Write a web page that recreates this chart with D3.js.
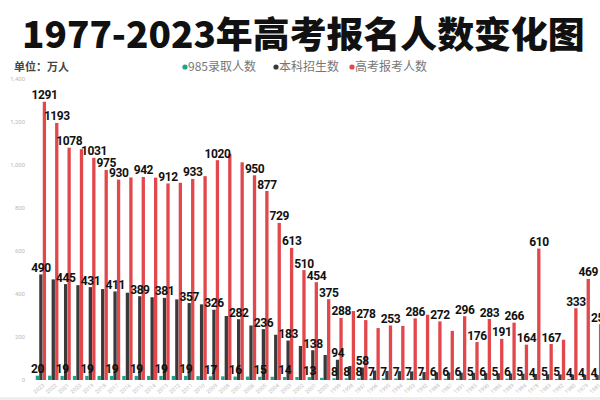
<!DOCTYPE html>
<html><head><meta charset="utf-8">
<script src="https://cdn.jsdelivr.net/npm/d3@7"></script>
<style>
html,body{margin:0;padding:0;background:#fff;}
svg{display:block;}
</style></head><body>
<svg id="chart" width="600" height="400"></svg>
<script>
// ---- data (万人) ----
const years = ["2023","2022","2021","2020","2019","2018","2017","2016","2015","2014","2013","2012","2011","2010","2009","2008","2007","2006","2005","2004","2003","2002","2001","2000","1999","1998","1997","1996","1995","1994","1993","1992","1988","1987","1991","1985","1990","1986","1989","1984","1978","1983","1982","1980","1979","1981","1977"];
const admit985 = [20,20,19,19,19,19,19,19,19,19,19,19,19,18,17,17,16,16,15,15,14,14,13,10,8,8,8,7,7,7,7,7,6,6,6,5,6,5,6,5,4,5,5,4,4,4,4];
const undergrad = [490,467,445,440,431,422,411,405,389,384,381,374,357,351,326,297,282,253,236,210,183,158,138,116,94,65,58,44,42,41,40,37,36,35,34,33,32,31,30,29,28,27,26,25,24,23,21];
const applicants = [1291,1193,1078,1071,1031,975,930,940,942,939,912,915,933,946,1020,1050,1010,950,877,729,613,510,454,375,288,320,278,241,253,251,286,303,272,228,296,176,283,191,266,164,610,167,187,333,469,259,570];
const yTicks = [0,200,400,600,800,1000,1200,1400];
const seriesNames = ["985录取人数","本科招生数","高考报考人数"];
// years whose value labels are visible
const label985 = ["2023","2021","2019","2017","2015","2013","2011","2009","2007","2005","2003","2001","1999","1998","1997","1996","1995","1994","1993","1992","1988","1987","1991","1985","1990","1986","1989","1984","1978","1983","1982","1980","1979","1981","1977"];
const labelUndergrad = ["2023","2021","2019","2017","2015","2013","2011","2009","2007","2005","2003","2001","1999","1997"];
const labelApplicants = ["2023","2022","2021","2019","2018","2017","2015","2013","2011","2009","2006","2005","2004","2003","2002","2001","2000","1999","1997","1995","1993","1988","1991","1985","1990","1986","1989","1984","1978","1983","1980","1979","1981","1977"];

const colors = ["#20a38b","#3a3a3a","#e2474c"];
const series = [admit985, undergrad, applicants];
const labelSets = [label985, labelUndergrad, labelApplicants];

const svg = d3.select("#chart");
const W = 600, H = 400;

// title (fit to the reference width)
const title = svg.append("text").attr("x", 22).attr("y", 48)
  .attr("font-family", "'Noto Sans CJK SC','Noto Sans',sans-serif")
  .attr("font-weight", 900).attr("font-size", 40).attr("fill", "#111")
  .text("1977-2023年高考报名人数变化图");
const tw = title.node().getComputedTextLength();
title.attr("font-size", 40 * 563 / tw);

svg.append("text").attr("x", 14).attr("y", 71)
  .attr("font-family", "'Noto Sans CJK SC',sans-serif")
  .attr("font-weight", 700).attr("font-size", 11).attr("fill", "#444")
  .text("单位：万人");

// legend
const legendX = [185, 276, 352];
const lg = svg.append("g");
seriesNames.forEach((n, i) => {
  lg.append("circle").attr("cx", legendX[i]).attr("cy", 67).attr("r", 2.6).attr("fill", colors[i]);
  lg.append("text").attr("x", legendX[i] + 3).attr("y", 71.3)
    .attr("font-family", "'Noto Sans CJK SC',sans-serif")
    .attr("font-size", 12).attr("fill", "#777").text(n);
});

// scales
const step = 12.36;
const x0 = d3.scaleBand().domain(years).range([34.82, 34.82 + step * years.length])
  .paddingInner(0.15).paddingOuter(0.075);
const x1 = d3.scaleBand().domain([0, 1, 2]).range([0, x0.bandwidth()]);
const y = d3.scaleLinear().domain([0, 1400]).range([380, 78.3]);

// y axis
const ya = svg.append("g").attr("transform", "translate(27,0)")
  .call(d3.axisLeft(y).tickValues(yTicks).tickFormat(d3.format(",")).tickSize(0).tickPadding(2));
ya.select(".domain").remove();
ya.selectAll("text").attr("font-size", 6).attr("fill", "#bbb").attr("font-family", "Roboto,sans-serif");

// x axis
const xa = svg.append("g").attr("transform", "translate(0,381)")
  .call(d3.axisBottom(x0).tickSize(0).tickPadding(0));
xa.select(".domain").remove();
xa.selectAll("text").attr("font-size", 5.5).attr("fill", "#c2c2c2")
  .attr("font-family", "Roboto,sans-serif")
  .attr("text-anchor", "end").attr("dy", "0.5em")
  .attr("transform", "translate(2,3) rotate(-40)");

// bars
const groups = svg.append("g").selectAll("g").data(years).join("g")
  .attr("transform", d => `translate(${x0(d)},0)`);
series.forEach((vals, si) => {
  groups.append("rect")
    .attr("x", x1(si)).attr("width", x1.bandwidth() - 0.2)
    .attr("y", (d, i) => y(vals[i])).attr("height", (d, i) => y(0) - y(vals[i]))
    .attr("fill", colors[si]);
});

// value labels
const lab = svg.append("g").attr("font-family", "Roboto,'DejaVu Sans',sans-serif")
  .attr("font-weight", 700).attr("font-size", 12).attr("letter-spacing", -0.4)
  .attr("fill", "#111").attr("text-anchor", "middle");
series.forEach((vals, si) => {
  years.forEach((yr, i) => {
    if (!labelSets[si].includes(yr)) return;
    lab.append("text")
      .attr("x", x0(yr) + x1(si) + x1.bandwidth() / 2)
      .attr("y", y(vals[i]) - 2.5)
      .text(vals[i]);
  });
});

// bottom strip
svg.append("rect").attr("x", 0).attr("y", 397).attr("width", W).attr("height", 3).attr("fill", "#eeeeee");
</script>
</body></html>
